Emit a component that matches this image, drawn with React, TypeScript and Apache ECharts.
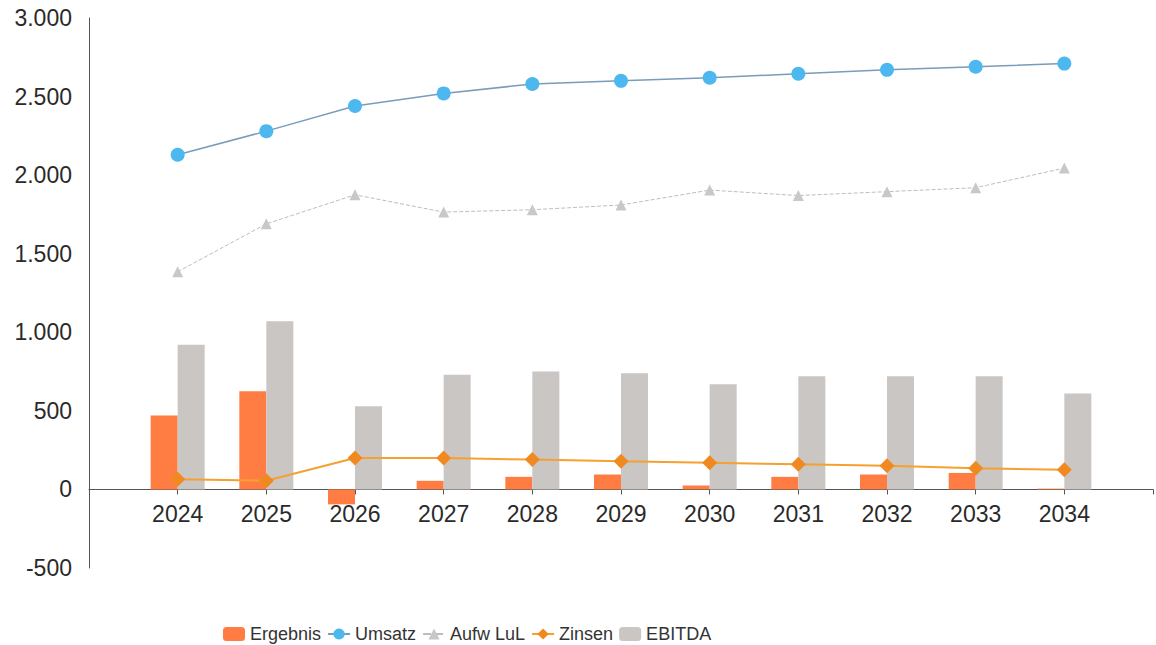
import React, { useEffect, useRef } from "react";
import * as echarts from "echarts";

const years = ["2024", "2025", "2026", "2027", "2028", "2029", "2030", "2031", "2032", "2033", "2034"];
const ergebnis = [470, 625, -95, 55, 80, 95, 25, 80, 95, 105, 5];
const umsatz = [2130, 2280, 2440, 2520, 2580, 2600, 2620, 2645, 2670, 2690, 2710];
const aufwLuL = [1385, 1690, 1875, 1765, 1780, 1810, 1905, 1870, 1895, 1920, 2045];
const zinsen = [65, 55, 200, 200, 190, 180, 170, 160, 150, 135, 125];
const ebitda = [920, 1070, 530, 730, 750, 740, 670, 720, 720, 720, 610];
const legendNames = ["Ergebnis", "Umsatz", "Aufw LuL", "Zinsen", "EBITDA"];

const FONT = "'Liberation Sans', Arial, sans-serif";

function fmtDe(v: number): string {
  const s = Math.abs(v).toString();
  const withDots = s.replace(/\B(?=(\d{3})+(?!\d))/g, ".");
  return (v < 0 ? "-" : "") + withDots;
}

// pad the category axis with an empty slot on each side
const cats = ["", ...years, ""];
const pad = (arr: number[]) => [null, ...arr, null];

export default function App() {
  const ref = useRef<HTMLDivElement>(null);
  useEffect(() => {
    if (!ref.current) return;
    const chart = echarts.init(ref.current, null, { renderer: "svg" });
    chart.setOption({
      animation: false,
      backgroundColor: "#ffffff",
      grid: { left: 89, right: -3, top: 18, bottom: 77, containLabel: false },
      legend: {
        left: 218,
        top: 620,
        itemWidth: 22,
        itemHeight: 14,
        itemGap: 6,
        textStyle: { fontFamily: FONT, fontSize: 18, color: "#333" },
        data: legendNames,
      },
      xAxis: {
        type: "category",
        data: cats,
        boundaryGap: false,
        axisLine: { onZero: true, lineStyle: { color: "#555", width: 1 } },
        axisTick: { show: true, length: 5, lineStyle: { color: "#555" } },
        axisLabel: { fontFamily: FONT, fontSize: 23, color: "#2a2a2a", margin: -66 },
        splitLine: { show: false },
      },
      yAxis: {
        type: "value",
        min: -500,
        max: 3000,
        interval: 500,
        axisLine: { show: true, lineStyle: { color: "#555", width: 1 } },
        axisTick: { show: false },
        splitLine: { show: false },
        axisLabel: {
          fontFamily: FONT,
          fontSize: 23,
          color: "#2a2a2a",
          margin: 17,
          formatter: (v: number) => fmtDe(v),
        },
      },
      series: [
        {
          name: "Ergebnis",
          type: "bar",
          data: pad(ergebnis),
          barWidth: 27,
          barGap: "0%",
          itemStyle: { color: "#FF7D42" },
        },
        {
          name: "EBITDA",
          type: "bar",
          data: pad(ebitda),
          barWidth: 27,
          barGap: "0%",
          itemStyle: { color: "#C9C6C4" },
        },
        {
          name: "Umsatz",
          type: "line",
          data: pad(umsatz),
          z: 4,
          symbol: "circle",
          symbolSize: 14,
          itemStyle: { color: "#4DB8F0" },
          lineStyle: { color: "#7a9cb8", width: 1.5 },
        },
        {
          name: "Aufw LuL",
          type: "line",
          data: pad(aufwLuL),
          z: 4,
          symbol: "triangle",
          symbolSize: 11,
          itemStyle: { color: "#C8C8C8" },
          lineStyle: { color: "#BDBDBD", width: 1, type: "dashed" },
        },
        {
          name: "Zinsen",
          type: "line",
          data: pad(zinsen),
          z: 4,
          symbol: "diamond",
          symbolSize: 15,
          itemStyle: { color: "#F08A20" },
          lineStyle: { color: "#F5A030", width: 2 },
        },
      ],
    });
    return () => chart.dispose();
  }, []);
  return (
    <div
      ref={ref}
      style={{ position: "fixed", left: 0, top: 0, width: 1156, height: 645, background: "#fff" }}
    />
  );
}
